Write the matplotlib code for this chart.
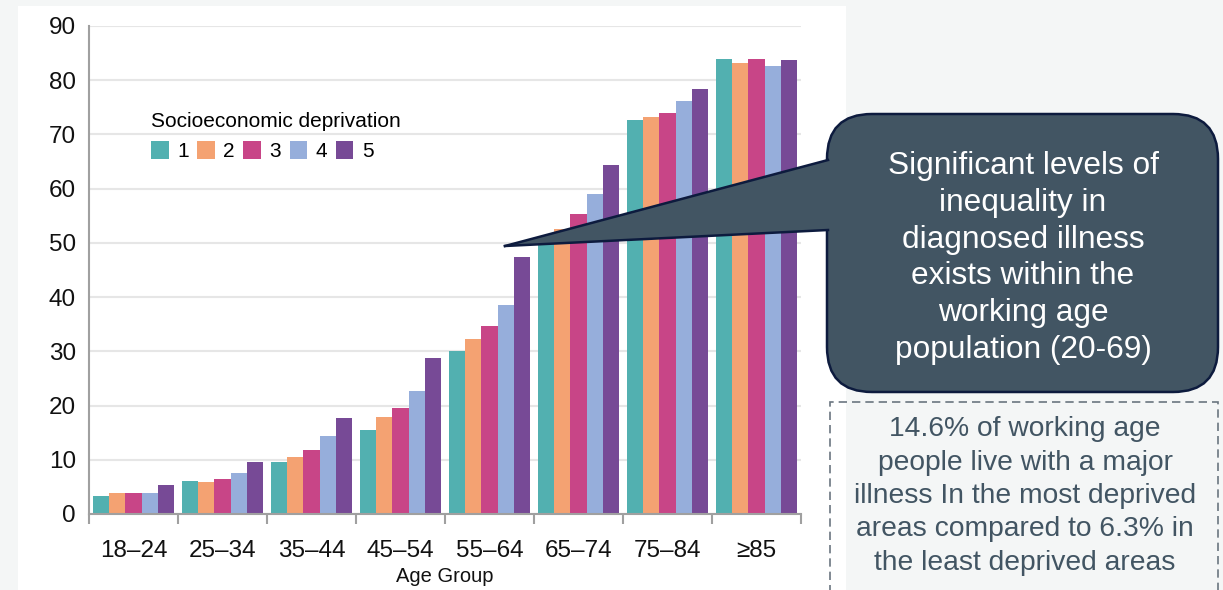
import matplotlib
matplotlib.use("Agg")
import matplotlib.pyplot as plt
import numpy as np
from matplotlib.patches import FancyBboxPatch, Polygon, Rectangle
from matplotlib.lines import Line2D
from matplotlib.transforms import IdentityTransform

plt.rcParams['font.family'] = ['Liberation Sans', 'DejaVu Sans']

# datos (% con enfermedad diagnosticada)
grupos = ['18–24', '25–34', '35–44', '45–54', '55–64', '65–74', '75–84', '≥85']
quintiles = ['1', '2', '3', '4', '5']
q1 = [3.4, 6.1, 9.5, 15.4, 30.1, 50.5, 72.6, 84.0]
q2 = [3.8, 5.9, 10.5, 17.9, 32.3, 52.5, 73.2, 83.1]
q3 = [3.8, 6.4, 11.8, 19.5, 34.6, 55.4, 74.0, 84.0]
q4 = [3.8, 7.6, 14.3, 22.6, 38.6, 59.0, 76.1, 82.6]
q5 = [5.3, 9.5, 17.7, 28.8, 47.4, 64.4, 78.3, 83.7]
colores = ['#52b0b0', '#f4a272', '#c84587', '#96aedb', '#774a96']

texto_globo = ("Significant levels of\ninequality in\ndiagnosed illness\n"
               "exists within the\nworking age\npopulation (20-69)")
texto_caja = ("14.6% of working age\npeople live with a major\n"
              "illness In the most deprived\nareas compared to 6.3% in\n"
              "the least deprived areas")

W, H = 1223, 590
fig = plt.figure(figsize=(W / 100, H / 100), dpi=100, facecolor='#f4f6f6')

def px(x, y):
    # pixeles (origen arriba-izquierda) -> coordenadas de pantalla
    return (x, H - y)

# panel blanco detras del grafico
fig.add_artist(Rectangle(px(18, 590), 828, 584, transform=IdentityTransform(),
                         facecolor='white', edgecolor='none', zorder=0))

ax = fig.add_axes([89 / W, 1 - 514 / H, (801 - 89) / W, (514 - 26) / H])
ax.set_facecolor('none')

x = np.arange(len(grupos))
ancho = 0.18
series = [q1, q2, q3, q4, q5]
for i, s in enumerate(series):
    ax.bar(x + (i - 2) * ancho, s, ancho, color=colores[i], label=quintiles[i], zorder=2)

ax.set_xlim(-0.5, len(grupos) - 0.5)
ax.set_ylim(0, 90)
ax.set_yticks(np.arange(0, 91, 10))
ax.yaxis.grid(True, color='#e6e6e6', lw=1.5, zorder=0)
ax.set_axisbelow(True)
ax.tick_params(axis='y', length=0, pad=9.5, labelsize=17.5, labelcolor='#111111')
ax.set_xticks(x)
ax.set_xticklabels(grupos)
ax.tick_params(axis='x', which='major', length=0, pad=19, labelsize=17.5, labelcolor='#111111')
ax.set_xticks(np.arange(-0.5, len(grupos)), minor=True)
ax.tick_params(axis='x', which='minor', length=7, width=1.5, color='#a0a0a0')
for lado in ['top', 'right']:
    ax.spines[lado].set_visible(False)
for lado in ['left', 'bottom']:
    ax.spines[lado].set_color('#a0a0a0')
    ax.spines[lado].set_linewidth(1.5)
ax.set_xlabel('Age Group', fontsize=14.5, labelpad=3, color='#111111')

leg = ax.legend(title='Socioeconomic deprivation', ncol=5, frameon=False,
                loc='upper left', bbox_to_anchor=(151 / W, 1 - 112 / H),
                bbox_transform=fig.transFigure, borderpad=0, borderaxespad=0,
                fontsize=15, title_fontsize=15, handlelength=0.85, handleheight=0.9,
                handletextpad=0.4, columnspacing=0.41, alignment='left')

# globo de texto
globo = FancyBboxPatch(px(827, 392), 1218 - 827, 392 - 114,
                       boxstyle='round,pad=0,rounding_size=45',
                       transform=IdentityTransform(), facecolor='#425563',
                       edgecolor='#0d1b3e', lw=1.8, zorder=5)
fig.add_artist(globo)
punta = [px(505, 246), px(828, 160), px(834, 160), px(834, 230), px(828, 230)]
fig.add_artist(Polygon(punta, closed=True, transform=IdentityTransform(),
                       facecolor='#425563', edgecolor='none', zorder=6))
for yb in [160, 230]:
    fig.add_artist(Line2D([505, 828], [H - 246, H - yb], transform=IdentityTransform(),
                          color='#0d1b3e', lw=1.8, zorder=7))
fig.text(1023 / W, 1 - 258 / H, texto_globo, color='white', fontsize=22.8,
         ha='center', va='center', multialignment='center', linespacing=1.3, zorder=8)

# caja discontinua
fig.add_artist(Rectangle(px(830, 610), 1218 - 830, 610 - 402, transform=IdentityTransform(),
                         facecolor='none', edgecolor='#6b7680', lw=1.2,
                         linestyle=(0, (5, 3)), zorder=5))
fig.text(1025 / W, 1 - 496 / H, texto_caja, color='#425563', fontsize=20.3,
         ha='center', va='center', multialignment='center', linespacing=1.37, zorder=8)

fig.savefig('out.png', dpi=100, facecolor=fig.get_facecolor())
